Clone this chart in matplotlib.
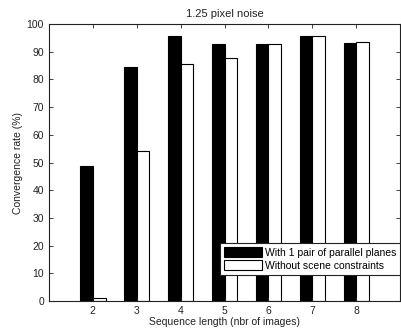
import numpy as np
import matplotlib
matplotlib.use('Agg')
import matplotlib.pyplot as plt

# convergence rate (%) per sequence length
seq_len = [2, 3, 4, 5, 6, 7, 8]
with_planes = [48.7, 84.4, 95.5, 92.6, 92.6, 95.6, 93.1]
no_constraints = [1.0, 54.2, 85.6, 87.8, 92.6, 95.7, 93.5]

plt.rcParams['font.family'] = ['Liberation Sans', 'DejaVu Sans']
plt.rcParams['font.size'] = 7.5

fig = plt.figure(figsize=(4.01, 3.33), dpi=100)
ax = fig.add_axes([0.122, 0.096, 0.876, 0.832])

x = np.array(seq_len)
w = 0.29
ax.bar(x - w / 2, with_planes, w, color='black', edgecolor='black', linewidth=0.8,
       label='With 1 pair of parallel planes')
ax.bar(x + w / 2, no_constraints, w, color='white', edgecolor='black', linewidth=0.8,
       label='Without scene constraints')

ax.set_xlim(1, 9)
ax.set_ylim(0, 100)
ax.set_xticks(seq_len)
ax.set_yticks(range(0, 101, 10))
ax.tick_params(direction='in', top=True, right=True, length=3, width=0.6,
               labelsize=7.5, colors='#222222')
for s in ax.spines.values():
    s.set_linewidth(0.8)
    s.set_color('#222222')

ax.set_title('1.25 pixel noise', fontsize=8, pad=5, color='#222222')
ax.set_xlabel('Sequence length (nbr of images)', fontsize=7.5, labelpad=1, color='#222222')
ax.set_ylabel('Convergence rate (%)', fontsize=7.5, labelpad=3, color='#222222')

leg = ax.legend(loc='lower right', bbox_to_anchor=(1.0, 0.095), fontsize=7.5,
                fancybox=False, framealpha=1, edgecolor='#222222',
                handlelength=3.6, handleheight=1.1, handletextpad=0.3,
                borderpad=0.4, labelspacing=0.2, borderaxespad=0)
leg.get_frame().set_linewidth(0.8)

fig.savefig('out.png', dpi=100)
